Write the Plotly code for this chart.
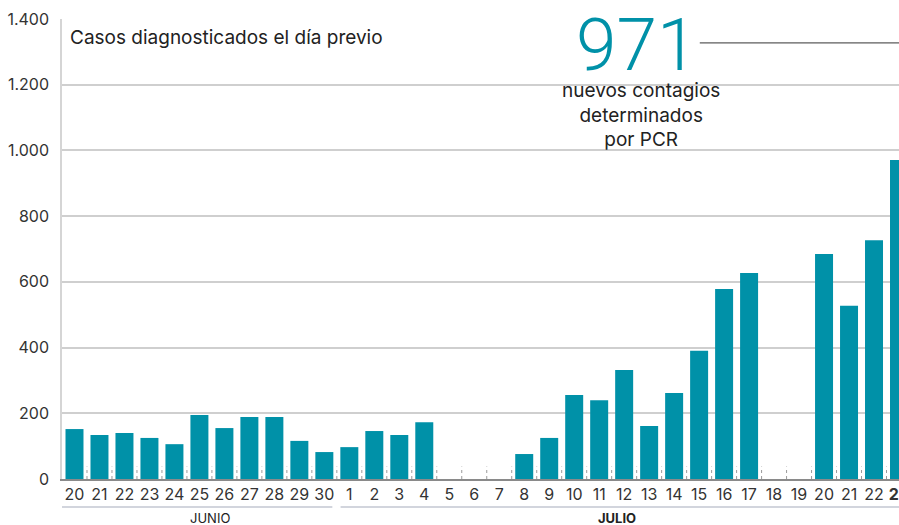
import plotly.graph_objects as go

days = [20, 21, 22, 23, 24, 25, 26, 27, 28, 29, 30,
        1, 2, 3, 4, 5, 6, 7, 8, 9, 10, 11, 12, 13, 14, 15, 16, 17, 18, 19, 20, 21, 22, 23]
months = ["JUNIO"] * 11 + ["JULIO"] * 23
cases = [152, 134, 140, 125, 106, 195, 155, 189, 189, 116, 82,
         97, 146, 134, 173, 0, 0, 0, 76, 125, 256, 240, 332, 161, 262, 390, 578, 627, 0, 0, 685, 527, 727, 971]
yticks = [0, 200, 400, 600, 800, 1000, 1200, 1400]

FONT = "Inter"
TEAL = "#0091a8"
xs = list(range(len(days)))
ticktext = [str(d) for d in days]
ticktext[-1] = "<b>" + ticktext[-1] + "</b>"

fig = go.Figure()
fig.add_trace(go.Bar(x=xs, y=cases, marker=dict(color=TEAL, line=dict(width=0)),
                     hoverinfo="skip", cliponaxis=True))

shapes = []
# dotted separators between bars
for i in range(len(days) - 1):
    shapes.append(dict(type="line", xref="x", yref="paper", x0=i + 0.5, x1=i + 0.5,
                       y0=0, y1=0.027, line=dict(color="#9a9a9a", width=1, dash="dot")))
# month brackets
june_idx = [i for i, m in enumerate(months) if m == "JUNIO"]
july_idx = [i for i, m in enumerate(months) if m == "JULIO"]
shapes.append(dict(type="line", xref="x", yref="paper", x0=june_idx[0] - 0.5, x1=june_idx[-1] + 0.32,
                   y0=-0.061, y1=-0.061, line=dict(color="#c3c7d2", width=1.5)))
shapes.append(dict(type="line", xref="x", yref="paper", x0=july_idx[0] - 0.35, x1=july_idx[-1] + 0.5,
                   y0=-0.061, y1=-0.061, line=dict(color="#c3c7d2", width=1.5)))
# callout line
shapes.append(dict(type="line", xref="paper", yref="paper", x0=0.762, x1=1.0, y0=0.948, y1=0.948,
                   line=dict(color="#333333", width=1)))

annotations = [
    dict(text="Casos diagnosticados el día previo", xref="paper", yref="paper", x=0.007, y=0.959,
         xanchor="left", yanchor="middle", showarrow=False, font=dict(family=FONT, size=19, color="#222")),
    dict(text=str(cases[-1]), xref="paper", yref="paper", x=0.686, y=0.944,
         xanchor="center", yanchor="middle", showarrow=False,
         font=dict(family="Roboto", size=73, color=TEAL, weight=300)),
    dict(text="nuevos contagios<br>determinados<br>por PCR", xref="paper", yref="paper", x=0.692, y=0.873,
         xanchor="center", yanchor="top", showarrow=False, align="center",
         font=dict(family=FONT, size=19, color="#222")),
    dict(text="JUNIO", xref="x", yref="paper", x=5.44, y=-0.085, xanchor="center", yanchor="middle",
         showarrow=False, font=dict(family=FONT, size=13, color="#222")),
    dict(text="<b>JULIO</b>", xref="x", yref="paper", x=21.7, y=-0.085, xanchor="center", yanchor="middle",
         showarrow=False, font=dict(family=FONT, size=13, color="#222")),
]

fig.update_layout(
    width=899, height=525,
    margin=dict(l=61.5, r=0, t=19, b=46, autoexpand=False),
    plot_bgcolor="white", paper_bgcolor="white",
    separators=",.",
    bargap=0.28,
    showlegend=False,
    shapes=shapes,
    annotations=annotations,
    xaxis=dict(range=[-0.5, 33.0], tickmode="array", tickvals=xs, ticktext=ticktext,
               showgrid=False, showline=True, linecolor="#8a8a8a", linewidth=1.5,
               tickfont=dict(family=FONT, size=16, color="#333"), ticks="", automargin=False,
               ticklabeloverflow="allow"),
    yaxis=dict(range=[0, 1400], tickmode="array", tickvals=yticks, tickformat=",d",
               showgrid=True, gridcolor="#cfcfcf", gridwidth=1.5, zeroline=False,
               showline=True, linecolor="#d5d5d5", linewidth=1.5, automargin=False,
               tickfont=dict(family=FONT, size=16, color="#333"), ticks="", ticklabelstandoff=8),
)

fig.write_html("out.html", config={"displayModeBar": False},
               post_script="document.body.style.margin='0';document.body.style.overflow='hidden';")
